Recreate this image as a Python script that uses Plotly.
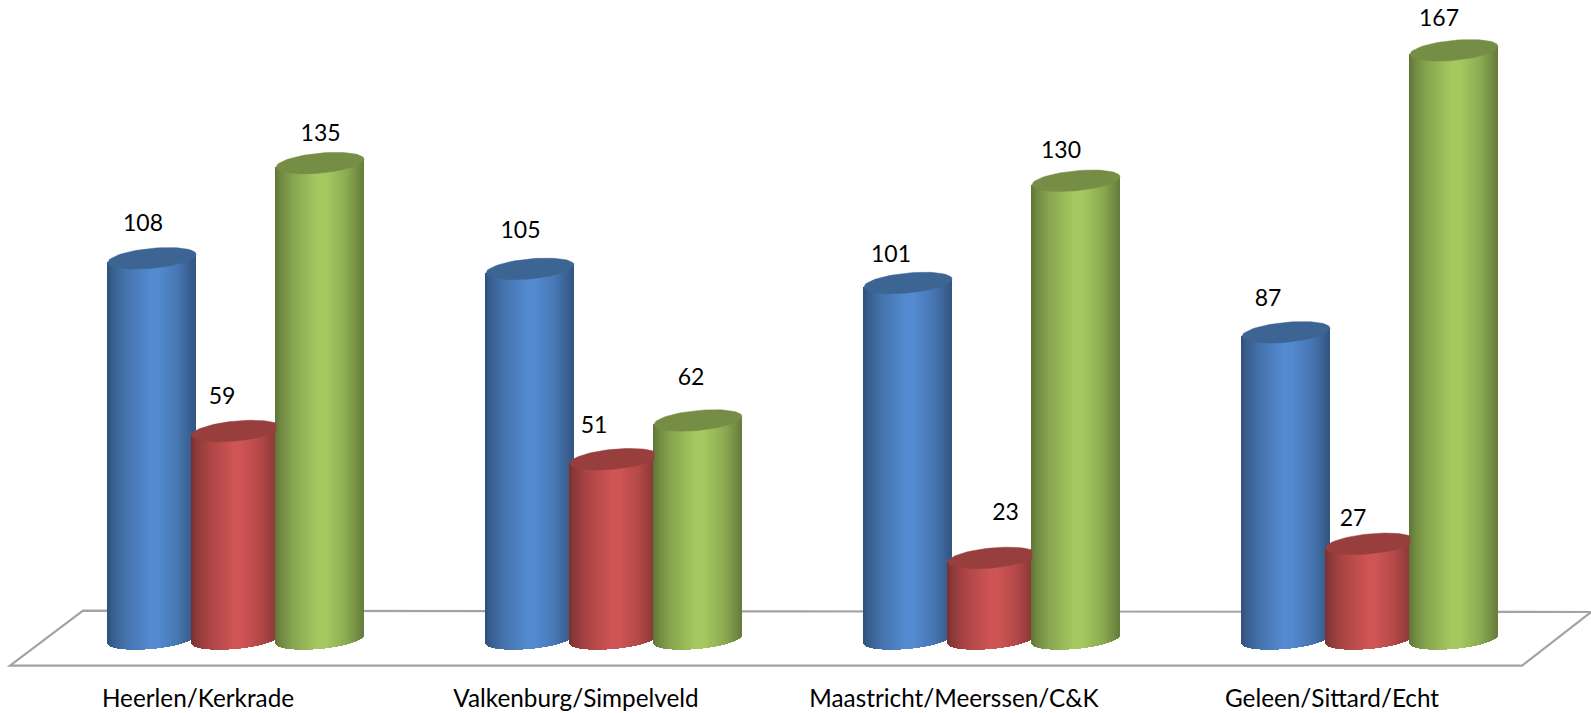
import numpy as np
import plotly.graph_objects as go

# ---- data ----
categories = ["Heerlen/Kerkrade", "Valkenburg/Simpelveld", "Maastricht/Meerssen/C&K", "Geleen/Sittard/Echt"]
series_blue = [108, 105, 101, 87]
series_red = [59, 51, 23, 27]
series_green = [135, 62, 130, 167]
series_names = ["Blauw", "Rood", "Groen"]

# hand-placed data label offsets in pixels (dx, height above cylinder top)
label_dx = [[-9, -9.5, -17, -18], [-14, -20, 13.5, -17], [0.6, -7, -15, -15]]
label_dy = [[33, 37, 27, 32], [33, 32, 44, 24], [28, 41, 29, 30]]

# ---- layout constants (pixels) ----
W, H = 1591, 713
PLOT_BOTTOM = 668
ZERO_PX = 639
PX_PER_VAL = 3.525
GROUP_PX = 378.0
FIRST_GROUP_PX = 236.0
SPACING_PX = 84.0
HALF_W = 44.0
SHEAR = 4.0
MINOR = 10.0

def xd(px):  # horizontal pixel delta -> axis units
    return px / GROUP_PX

def yd(px):  # vertical pixel delta -> axis units
    return px / PX_PER_VAL

x_range = [-xd(FIRST_GROUP_PX), xd(W - FIRST_GROUP_PX)]
y_range = [-yd(PLOT_BOTTOM - ZERO_PX), yd(ZERO_PX)]

# shading: (position across cylinder, brightness)
shade_pos = [0.0, 0.06, 0.2, 0.48, 0.58, 0.8, 0.94, 1.0]
shade_val = [0.58, 0.68, 0.82, 1.0, 1.0, 0.86, 0.70, 0.62]
base_rgb = {"blue": (83, 138, 208), "red": (207, 84, 84), "green": (165, 201, 96)}
cap_rgb = {"blue": "#3c6593", "red": "#983f3e", "green": "#768d45"}
color_keys = ["blue", "red", "green"]
all_series = [series_blue, series_red, series_green]

fig = go.Figure()

# floor parallelogram (under the cylinders)
floor_x = [10, 1522, 1591, 83]
floor_y = [665.7, 665.7, 612, 610.7]
floor_path = "M " + " L ".join(
    f"{xd(px - FIRST_GROUP_PX):.5f},{yd(ZERO_PX - py):.4f}" for px, py in zip(floor_x, floor_y)
) + " Z"
fig.add_shape(type="path", path=floor_path, xref="x", yref="y", layer="below",
              line=dict(color="#a3a3a3", width=2.2))

# cylinders: drawn per category, left to right
for g in range(len(categories)):
    for s, vals in enumerate(all_series):
        key = color_keys[s]
        v = vals[g]
        center = g + xd((s - 1) * SPACING_PX)
        u = (np.arange(int(2 * HALF_W)) + 0.5) / HALF_W - 1
        bottom = yd(SHEAR * u - MINOR * np.sqrt(1 - u ** 2))
        top = v + yd(SHEAR * u)
        bright = np.interp((u + 1) / 2, shade_pos, shade_val)
        cols = ["rgb(%d,%d,%d)" % tuple(int(c * b) for c in base_rgb[key]) for b in bright]
        fig.add_trace(go.Bar(
            x=center + xd(u * HALF_W), y=top - bottom, base=bottom,
            width=xd(1.6), marker=dict(color=cols, line=dict(width=0)),
            name=series_names[s], showlegend=False, hoverinfo="skip",
        ))
        t = np.linspace(0, 2 * np.pi, 73)
        cap_x = center + xd(HALF_W * np.cos(t))
        if key == "red":  # the neighbouring green cylinder hides the cap's right tip
            cap_x = np.minimum(cap_x, center + xd(SPACING_PX - HALF_W))
        fig.add_trace(go.Scatter(
            x=cap_x,
            y=v + yd(SHEAR * np.cos(t) + MINOR * np.sin(t)),
            mode="lines", fill="toself", fillcolor=cap_rgb[key],
            line=dict(color=cap_rgb[key], width=0.5),
            hoverinfo="skip", showlegend=False,
        ))

# value labels
for s, vals in enumerate(all_series):
    fig.add_trace(go.Scatter(
        x=[g + xd((s - 1) * SPACING_PX + label_dx[s][g]) for g in range(len(categories))],
        y=[vals[g] + yd(label_dy[s][g]) for g in range(len(categories))],
        text=[str(v) for v in vals], mode="text", textposition="middle center",
        textfont=dict(family="Lato", size=23, color="#000000"),
        hoverinfo="skip", showlegend=False, cliponaxis=False,
    ))

fig.update_layout(
    width=W, height=H, margin=dict(l=0, r=0, t=0, b=H - PLOT_BOTTOM),
    paper_bgcolor="white", plot_bgcolor="white", barmode="overlay", bargap=0,
    showlegend=False,
    xaxis=dict(range=x_range, tickmode="array", automargin=False,
               tickvals=[g + xd(-38) for g in range(len(categories))], ticktext=categories,
               showgrid=False, zeroline=False, showline=False,
               ticks="outside", ticklen=9, tickcolor="rgba(0,0,0,0)",
               tickfont=dict(family="Lato", size=24.3, color="#000000")),
    yaxis=dict(range=y_range, visible=False, showgrid=False, zeroline=False, automargin=False),
)
fig.write_html("out.html", config={"displayModeBar": False},
               post_script="document.body.style.margin='0';document.body.style.overflow='hidden';")
